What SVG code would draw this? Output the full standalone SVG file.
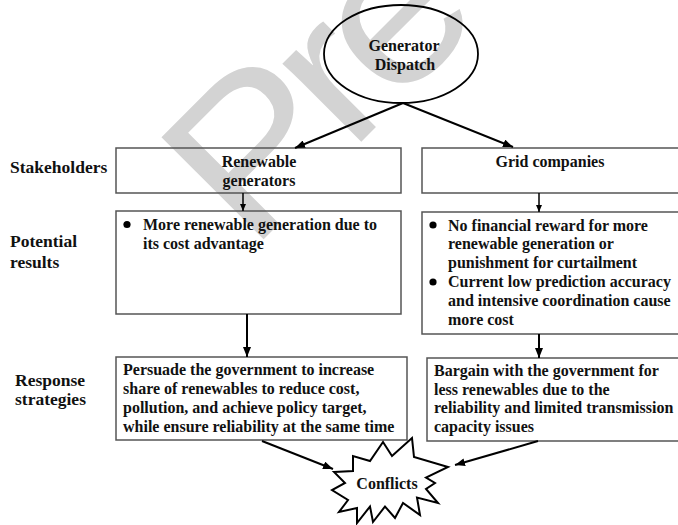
<svg xmlns="http://www.w3.org/2000/svg" width="678" height="525" viewBox="0 0 678 525">
  <style>
    .box { fill: none; stroke: #555555; stroke-width: 1.5; }
    .txt { font-family: "Liberation Serif", "Times New Roman", serif; font-weight: bold; font-size: 16px; fill: #111111; }
    .lbl { font-family: "Liberation Serif", "Times New Roman", serif; font-weight: bold; font-size: 17.5px; fill: #111111; }
    .mid { text-anchor: middle; }
    .edge { fill: none; stroke: #000000; stroke-width: 2; }
    .edge-s { fill: none; stroke: #000000; stroke-width: 1.5; }
    .dot { fill: #000000; }
    .wm { font-family: "Liberation Sans", Arial, sans-serif; font-size: 210px; letter-spacing: -14px; fill: #d3d3d3; }
  </style>
  <defs>
    <marker id="arrow" markerUnits="userSpaceOnUse" markerWidth="10" markerHeight="8" refX="10" refY="4" orient="auto">
      <path d="M0,0 L10,4 L0,8 z" fill="#000000"/>
    </marker>
    <marker id="arrow-s" markerUnits="userSpaceOnUse" markerWidth="7" markerHeight="6" refX="7" refY="3" orient="auto">
      <path d="M0,0 L7,3 L0,6 z" fill="#000000"/>
    </marker>
  </defs>

  <rect width="678" height="525" fill="#ffffff"/>

  <!-- background watermark, slightly stretched along its baseline -->
  <text class="wm" x="0" y="0" transform="translate(250 253) rotate(-45) scale(1.12 1)">Pre</text>

  <!-- row labels -->
  <g id="row-labels">
    <text class="lbl" x="10" y="173">Stakeholders</text>
    <text class="lbl" x="10" y="247">Potential</text>
    <text class="lbl" x="10" y="268">results</text>
    <text class="lbl" x="15" y="386">Response</text>
    <text class="lbl" x="15" y="405">strategies</text>
  </g>

  <g id="dispatch">
    <ellipse cx="401" cy="54" rx="77" ry="49" fill="none" stroke="#000000" stroke-width="1.8"/>
    <text class="txt mid" x="404" y="51">Generator</text>
    <text class="txt mid" x="405" y="70">Dispatch</text>
  </g>

  <g id="renewable-generators">
    <rect class="box" x="116" y="148" width="285" height="45"/>
    <text class="txt mid" x="259" y="167">Renewable</text>
    <text class="txt mid" x="259" y="186">generators</text>
  </g>

  <g id="grid-companies">
    <rect class="box" x="422" y="148" width="262" height="45"/>
    <text class="txt mid" x="550" y="167">Grid companies</text>
  </g>

  <g id="renewable-results">
    <rect class="box" x="116" y="211" width="285" height="103"/>
    <circle class="dot" cx="127" cy="224.5" r="3.6"/>
    <text class="txt" x="143" y="230">More renewable generation due to</text>
    <text class="txt" x="143" y="249">its cost advantage</text>
  </g>

  <g id="grid-results">
    <rect class="box" x="422" y="212" width="262" height="122"/>
    <circle class="dot" cx="433" cy="225" r="3.6"/>
    <text class="txt" x="448" y="230.5">No financial reward for more</text>
    <text class="txt" x="448" y="249">renewable generation or</text>
    <text class="txt" x="448" y="268">punishment for curtailment</text>
    <circle class="dot" cx="433" cy="282" r="3.6"/>
    <text class="txt" x="448" y="287">Current low prediction accuracy</text>
    <text class="txt" x="448" y="306">and intensive coordination cause</text>
    <text class="txt" x="448" y="325">more cost</text>
  </g>

  <g id="renewable-strategy">
    <rect class="box" x="116" y="357" width="291" height="83"/>
    <text class="txt" x="123" y="375">Persuade the government to increase</text>
    <text class="txt" x="123" y="394">share of renewables to reduce cost,</text>
    <text class="txt" x="123" y="413">pollution, and achieve policy target,</text>
    <text class="txt" x="123" y="432">while ensure reliability at the same time</text>
  </g>

  <g id="grid-strategy">
    <rect class="box" x="427" y="358" width="257" height="83"/>
    <text class="txt" x="434" y="376">Bargain with the government for</text>
    <text class="txt" x="434" y="394.5">less renewables due to the</text>
    <text class="txt" x="434" y="413">reliability and limited transmission</text>
    <text class="txt" x="434" y="432">capacity issues</text>
  </g>

  <g id="conflicts">
    <polygon points="334,472 353,471 353,456 370,461 383,442 392,456 412,438 414,457 448,467 426,477.5 435,483 426,489 438,503 417,497.5 420,515 403,503 395,518 385,506.5 373,522 370,506.5 357,523 357,508 339,512 348,500 332,490 345,483" fill="#ffffff" stroke="#000000" stroke-width="2" stroke-linejoin="miter"/>
    <text class="txt mid" x="387" y="489">Conflicts</text>
  </g>

  <!-- connectors -->
  <g id="connectors">
    <line class="edge" x1="403" y1="103" x2="295" y2="148" marker-end="url(#arrow)"/>
    <line class="edge" x1="403" y1="103" x2="513" y2="147" marker-end="url(#arrow)"/>
    <line class="edge-s" x1="243" y1="193" x2="243" y2="211" marker-end="url(#arrow-s)"/>
    <line class="edge-s" x1="539" y1="193" x2="539" y2="212" marker-end="url(#arrow-s)"/>
    <line class="edge" x1="247" y1="314" x2="247" y2="357" marker-end="url(#arrow)"/>
    <line class="edge" x1="539" y1="334" x2="539" y2="358" marker-end="url(#arrow)"/>
    <line class="edge" x1="262" y1="441" x2="333" y2="469" marker-end="url(#arrow)"/>
    <line class="edge" x1="538" y1="441" x2="455" y2="465" marker-end="url(#arrow)"/>
  </g>
</svg>
